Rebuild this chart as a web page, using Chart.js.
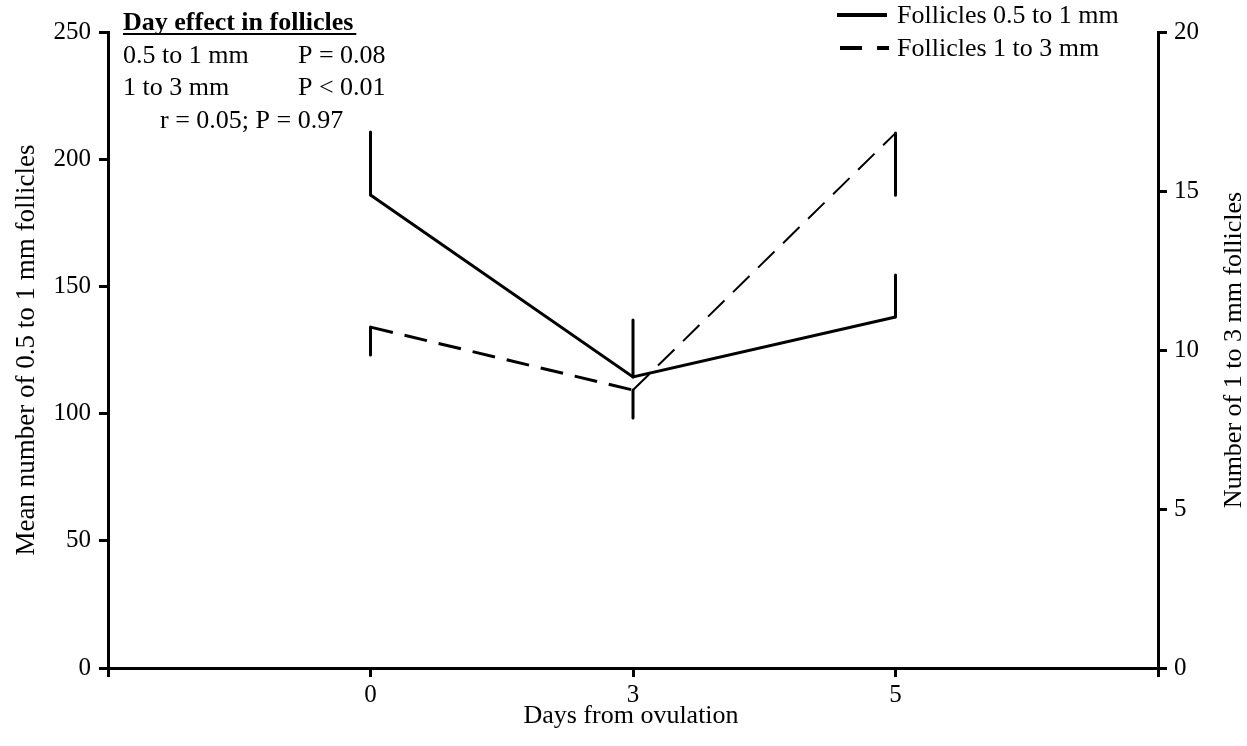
<!DOCTYPE html>
<html><head><meta charset="utf-8">
<script src="https://cdn.jsdelivr.net/npm/chart.js@4.4.1/dist/chart.umd.min.js"></script>
<style>html,body{margin:0;padding:0;background:#fff;} canvas{display:block;}</style>
</head><body>
<canvas id="c" width="1247" height="746"></canvas>
<script>
const days = ['0', '3', '5'];
const small = [185.9, 114.4, 138.0];
const smallErr = [24.8, 22.4, 16.5];
const large = [10.72, 8.74, 16.82];
const largeErr = [0.88, 0.88, 1.95];
const leftTicks = [0, 50, 100, 150, 200, 250];
const rightTicks = [0, 5, 10, 15, 20];
const seriesNames = ['Follicles 0.5 to 1 mm', 'Follicles 1 to 3 mm'];
const xTitle = 'Days from ovulation';
const yLeftTitle = 'Mean number of 0.5 to 1 mm follicles';
const yRightTitle = 'Number of 1 to 3 mm follicles';
const noteTitle = 'Day effect in follicles';
const noteRows = [['0.5 to 1 mm', 'P = 0.08'], ['1 to 3 mm', 'P < 0.01']];
const noteCorr = 'r = 0.05; P = 0.97';

const FONT = '"Liberation Serif", "Times New Roman", serif';
Chart.defaults.font.family = FONT;
Chart.defaults.color = '#000';

const pos = i => i + 1;
const datasets = [
  {
    label: seriesNames[0],
    data: days.map((d, i) => ({x: pos(i), y: small[i]})),
    yAxisID: 'y', borderColor: '#000', borderWidth: 3, pointRadius: 0, tension: 0, fill: false
  },
  {
    label: seriesNames[1],
    data: days.map((d, i) => ({x: pos(i), y: large[i]})),
    yAxisID: 'y1', borderColor: '#000', borderWidth: 3, borderDash: [23, 12], pointRadius: 0, tension: 0, fill: false,
    segment: { borderWidth: c => c.p0DataIndex === 1 ? 2 : 3 }
  }
];
days.forEach((d, i) => {
  datasets.push({
    label: 'errS' + i,
    data: [{x: pos(i), y: small[i]}, {x: pos(i), y: small[i] + smallErr[i]}],
    yAxisID: 'y', borderColor: '#000', borderWidth: 3, borderCapStyle: 'round', pointRadius: 0, fill: false
  });
  datasets.push({
    label: 'errL' + i,
    data: [{x: pos(i), y: large[i]}, {x: pos(i), y: large[i] - largeErr[i]}],
    yAxisID: 'y1', borderColor: '#000', borderWidth: 3, borderCapStyle: 'round', pointRadius: 0, fill: false
  });
});

const overlay = {
  id: 'overlay',
  afterDraw(chart) {
    const ctx = chart.ctx;
    const area = chart.chartArea;
    const midY = (area.top + area.bottom) / 2;
    ctx.save();
    ctx.fillStyle = '#000';
    ctx.strokeStyle = '#000';
    // axis titles
    ctx.font = '26px ' + FONT;
    ctx.textAlign = 'center';
    ctx.textBaseline = 'alphabetic';
    ctx.fillText(xTitle, 631, 723);
    ctx.save();
    ctx.font = '27px ' + FONT;
    ctx.translate(34, midY);
    ctx.rotate(-Math.PI / 2);
    ctx.fillText(yLeftTitle, 0, 0);
    ctx.restore();
    ctx.save();
    ctx.translate(1241, midY);
    ctx.rotate(-Math.PI / 2);
    ctx.fillText(yRightTitle, 0, 0);
    ctx.restore();
    // legend
    ctx.textAlign = 'left';
    ctx.textBaseline = 'middle';
    ctx.lineWidth = 4;
    ctx.beginPath(); ctx.moveTo(837, 15); ctx.lineTo(887, 15); ctx.stroke();
    ctx.beginPath(); ctx.moveTo(840, 48); ctx.lineTo(862, 48); ctx.moveTo(877, 48); ctx.lineTo(889, 48); ctx.stroke();
    ctx.fillText(seriesNames[0], 897, 16);
    ctx.fillText(seriesNames[1], 897, 49);
    // note
    ctx.textBaseline = 'alphabetic';
    ctx.font = 'bold 26px ' + FONT;
    ctx.fillText(noteTitle, 123, 30);
    const w = ctx.measureText(noteTitle).width;
    ctx.lineWidth = 2;
    ctx.beginPath(); ctx.moveTo(123, 34); ctx.lineTo(123 + w + 3, 34); ctx.stroke();
    ctx.font = '26px ' + FONT;
    noteRows.forEach((r, i) => {
      ctx.fillText(r[0], 123, 63 + i * 32);
      ctx.fillText(r[1], 298, 63 + i * 32);
    });
    ctx.fillText(noteCorr, 160, 128);
    ctx.restore();
  }
};

new Chart(document.getElementById('c'), {
  type: 'line',
  data: { datasets },
  options: {
    responsive: false,
    animation: false,
    layout: { padding: { top: 32, left: 0, right: 0, bottom: 0 } },
    plugins: { legend: { display: false }, tooltip: { enabled: false } },
    scales: {
      x: {
        type: 'linear', min: 0, max: 4,
        afterBuildTicks: s => { s.ticks = [0, 1, 2, 3, 4].map(v => ({value: v})); },
        ticks: {
          autoSkip: false, maxRotation: 0, padding: 3,
          font: { size: 25 }, color: '#000',
          callback: v => (v >= 1 && v <= days.length) ? days[v - 1] : ''
        },
        grid: { drawOnChartArea: false, drawTicks: true, tickLength: 9, lineWidth: 3, color: '#000' },
        border: { display: true, width: 3, color: '#000' },
        afterFit: s => { s.height = 78; }
      },
      y: {
        position: 'left', min: 0, max: 250,
        afterBuildTicks: s => { s.ticks = leftTicks.map(v => ({value: v})); },
        ticks: { padding: 8, font: { size: 25 }, color: '#000' },
        grid: { drawOnChartArea: false, drawTicks: true, tickLength: 9, lineWidth: 3, color: '#000' },
        border: { display: true, width: 3, color: '#000' },
        afterFit: s => { s.width = 108; }
      },
      y1: {
        position: 'right', min: 0, max: 20,
        afterBuildTicks: s => { s.ticks = rightTicks.map(v => ({value: v})); },
        ticks: { padding: 7, font: { size: 25 }, color: '#000' },
        grid: { drawOnChartArea: false, drawTicks: true, tickLength: 9, lineWidth: 3, color: '#000' },
        border: { display: true, width: 3, color: '#000' },
        afterFit: s => { s.width = 89; }
      }
    }
  },
  plugins: [overlay]
});
</script>
</body></html>
